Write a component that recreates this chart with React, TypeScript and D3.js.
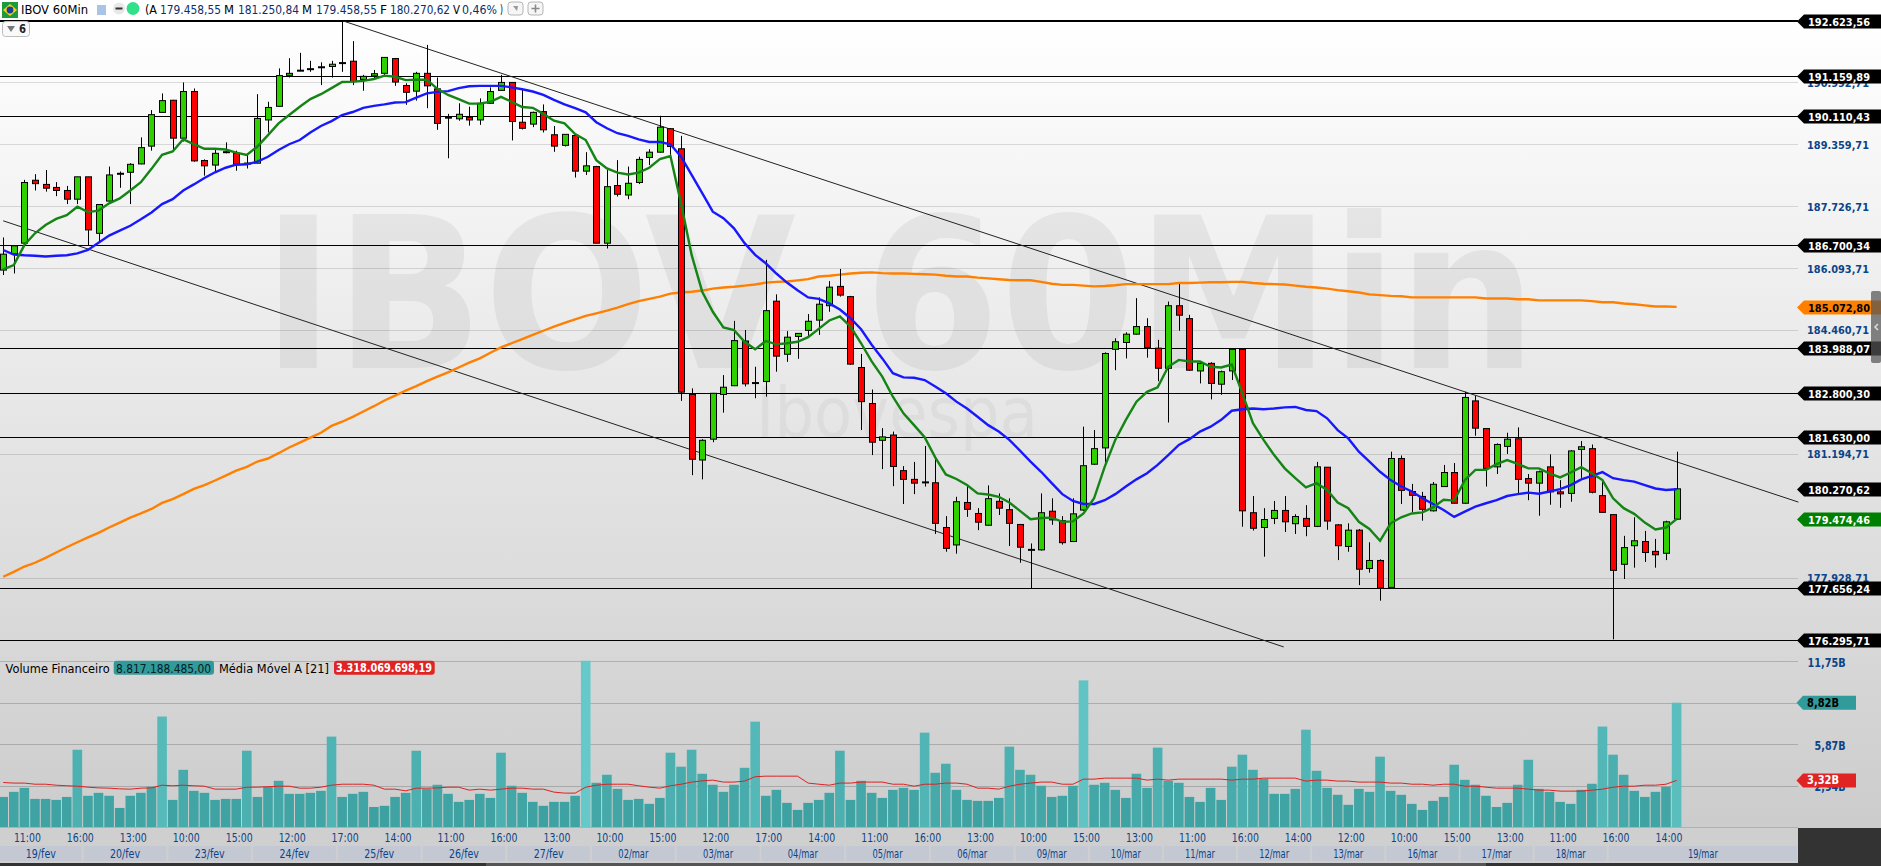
import * as d3 from "d3";

// cotacoes em milhares de pontos: [abertura, maxima, minima, fechamento]
const ohlc = [
  [186.04,186.90,185.91,186.46],[186.47,186.70,185.95,186.68],[186.75,188.42,186.70,188.35],[188.41,188.57,188.14,188.32],
  [188.30,188.68,188.11,188.20],[188.22,188.36,187.99,188.14],[188.14,188.26,187.78,187.91],[187.91,188.50,187.78,188.50],
  [188.50,188.50,186.70,187.10],[187.01,187.78,186.79,187.77],[187.86,188.77,187.85,188.55],[188.58,188.64,188.21,188.58],
  [188.62,188.86,187.78,188.83],[188.84,189.54,188.83,189.27],[189.31,190.26,189.19,190.14],[190.20,190.70,190.19,190.51],
  [190.52,190.53,189.17,189.52],[189.52,190.99,189.43,190.75],[190.75,190.83,188.90,188.92],[188.93,188.96,188.53,188.79],
  [188.81,189.21,188.64,189.12],[189.15,189.41,189.12,189.15],[189.12,189.19,188.66,188.83],[188.85,189.09,188.72,188.85],
  [188.86,190.68,188.86,190.04],[190.00,190.48,189.67,190.33],[190.36,191.36,190.35,191.17],[191.19,191.63,191.12,191.23],
  [191.30,191.77,191.29,191.30],[191.34,191.56,191.27,191.34],[191.39,191.52,190.92,191.39],[191.41,191.56,191.12,191.47],
  [191.50,192.62,191.27,191.50],[191.55,192.08,190.92,191.01],[191.07,191.19,190.77,191.15],[191.16,191.32,191.10,191.22],
  [191.23,191.65,191.19,191.65],[191.62,191.63,190.90,191.00],[190.91,190.97,190.40,190.73],[190.76,191.27,190.51,191.23],
  [191.23,191.98,190.31,190.90],[190.82,191.12,189.74,189.91],[190.06,190.16,188.99,190.06],[190.03,190.44,189.98,190.15],
  [190.07,190.35,189.85,190.00],[190.00,190.57,189.87,190.44],[190.44,190.86,190.42,190.75],[190.78,191.19,190.77,190.99],
  [190.99,190.99,189.46,189.96],[189.94,190.83,189.75,189.78],[189.89,190.22,189.81,190.20],[190.22,190.41,189.67,189.74],
  [189.61,189.84,189.16,189.31],[189.33,189.62,189.30,189.62],[189.59,189.60,188.48,188.65],[188.65,189.15,188.55,188.79],
  [188.77,188.79,186.75,186.75],[186.75,188.68,186.61,188.24],[188.27,188.94,187.98,188.04],[188.02,188.77,187.91,188.33],
  [188.35,189.03,188.31,188.96],[189.01,189.23,188.81,189.15],[189.15,190.11,189.14,189.81],[189.77,189.78,189.08,189.30],
  [189.24,189.58,182.59,182.82],[182.76,182.92,180.63,181.05],[181.03,181.58,180.52,181.55],[181.58,182.80,181.50,182.79],
  [182.76,183.27,182.28,182.95],[182.99,184.70,182.98,184.18],[184.17,184.46,182.97,183.04],[183.06,183.49,182.66,183.06],
  [183.10,186.31,182.70,184.97],[185.22,185.40,183.36,183.77],[183.82,184.43,183.62,184.27],[184.29,184.38,183.70,184.37],
  [184.45,184.88,184.27,184.69],[184.72,185.32,184.33,185.14],[185.10,185.75,184.94,185.59],[185.61,186.07,185.34,185.38],
  [185.34,185.36,183.54,183.56],[183.47,183.83,181.82,182.57],[182.52,182.89,181.16,181.50],[181.55,181.87,180.79,181.64],
  [181.69,181.78,180.34,180.86],[180.75,180.87,179.87,180.52],[180.52,180.98,180.13,180.42],[180.44,181.40,180.33,180.44],
  [180.43,181.09,179.08,179.36],[179.25,179.55,178.61,178.70],[178.79,180.06,178.56,179.93],[179.91,180.37,179.53,179.73],
  [179.62,179.76,179.18,179.39],[179.31,180.36,179.29,180.01],[179.94,180.15,179.58,179.76],[179.72,180.02,178.76,179.36],
  [179.33,179.33,178.32,178.73],[178.66,178.83,177.63,178.66],[178.66,180.15,178.64,179.64],[179.68,180.02,179.32,179.45],
  [179.43,179.55,178.80,178.85],[178.88,180.02,178.87,179.61],[179.71,181.91,179.69,180.88],[180.92,181.82,180.90,181.33],
  [181.35,183.87,180.94,183.84],[183.95,184.24,183.40,184.15],[184.13,184.40,183.71,184.35],[184.35,185.30,184.34,184.55],
  [184.55,184.77,183.73,184.00],[183.98,184.20,183.11,183.45],[183.45,185.21,182.02,185.10],[185.10,185.67,184.44,184.85],
  [184.76,184.86,183.38,183.40],[183.38,183.62,183.05,183.58],[183.58,183.61,182.63,183.05],[183.03,183.39,182.75,183.36],
  [183.38,183.98,183.14,183.95],[183.95,183.98,179.27,179.69],[179.64,180.08,179.17,179.23],[179.25,179.76,178.48,179.46],
  [179.49,179.95,179.34,179.70],[179.70,180.08,179.13,179.40],[179.35,179.60,179.08,179.54],[179.49,179.84,179.02,179.28],
  [179.28,180.98,179.26,180.85],[180.84,180.84,179.19,179.42],[179.32,179.34,178.39,178.77],[178.75,179.36,178.61,179.18],
  [179.18,179.21,177.73,178.15],[178.17,178.86,178.06,178.38],[178.38,178.41,177.32,177.65],[177.67,181.25,177.67,181.07],
  [181.07,181.15,179.87,180.23],[180.20,180.40,179.66,180.10],[180.07,180.19,179.43,179.73],[179.69,180.45,179.67,180.39],
  [180.33,180.90,180.33,180.70],[180.70,180.95,179.87,179.89],[179.89,182.83,179.87,182.68],[182.59,182.72,181.67,181.87],
  [181.86,181.86,180.33,180.81],[180.85,181.47,180.66,181.44],[181.39,181.75,181.19,181.58],[181.59,181.89,180.13,180.52],
  [180.54,180.66,179.97,180.42],[180.42,180.75,179.56,180.72],[180.85,181.18,179.85,180.19],[180.19,180.50,179.77,180.15],
  [180.15,181.29,179.93,181.27],[181.31,181.53,180.56,181.38],[181.33,181.44,180.15,180.18],[180.09,180.50,179.64,179.65],
  [179.59,179.59,176.30,178.12],[178.28,179.03,177.89,178.72],[178.77,179.52,178.19,178.90],[178.88,179.16,178.34,178.59],
  [178.62,178.95,178.19,178.53],[178.57,179.43,178.39,179.40],[179.47,181.25,179.46,180.27],
];

const maShort = [
  186.06,186.17,186.70,187.01,187.23,187.39,187.49,187.71,187.57,187.61,187.80,187.93,188.14,188.36,188.71,189.08,
  189.17,189.49,189.36,189.24,189.24,189.22,189.14,189.08,189.30,189.60,189.91,190.13,190.35,190.55,190.68,190.84,
  191.00,191.01,191.03,191.08,191.17,191.14,191.05,191.06,191.06,190.82,190.66,190.55,190.43,190.43,190.48,190.61,
  190.48,190.34,190.32,190.16,189.98,189.91,189.63,189.47,188.94,188.72,188.61,188.56,188.61,188.74,188.97,189.05,
  187.80,186.44,185.47,184.94,184.53,184.46,184.15,183.95,184.17,184.08,184.11,184.15,184.27,184.49,184.71,184.82,
  184.55,184.11,183.63,183.23,182.70,182.26,181.95,181.63,181.10,180.65,180.53,180.37,180.15,180.12,180.06,179.91,
  179.69,179.47,179.50,179.51,179.40,179.41,179.62,180.02,180.85,181.56,182.09,182.57,182.83,182.95,183.49,183.67,
  183.63,183.63,183.49,183.47,183.55,182.79,182.00,181.56,181.16,180.81,180.55,180.31,180.42,180.24,179.91,179.76,
  179.40,179.21,178.90,179.36,179.52,179.62,179.65,179.78,179.98,179.96,180.50,180.77,180.77,180.92,181.03,180.93,
  180.81,180.81,180.68,180.57,180.70,180.84,180.68,180.50,180.02,179.76,179.61,179.38,179.20,179.25,179.47,
];

const maMid = [
  186.57,186.45,186.43,186.42,186.40,186.42,186.43,186.48,186.57,186.76,186.95,187.08,187.21,187.38,187.56,187.78,
  187.91,188.14,188.30,188.47,188.62,188.74,188.82,188.83,188.90,189.03,189.21,189.36,189.47,189.67,189.84,189.97,
  190.13,190.21,190.32,190.37,190.41,190.46,190.47,190.59,190.70,190.74,190.76,190.84,190.89,190.90,190.90,190.90,
  190.86,190.81,190.75,190.66,190.53,190.41,190.31,190.20,189.94,189.78,189.65,189.58,189.49,189.42,189.42,189.36,
  189.03,188.55,188.07,187.58,187.41,187.14,186.75,186.44,186.22,185.95,185.71,185.51,185.32,185.28,185.16,185.00,
  184.77,184.48,184.07,183.71,183.32,183.21,183.20,183.14,182.97,182.79,182.57,182.39,182.17,181.95,181.78,181.56,
  181.28,180.99,180.72,180.42,180.13,179.95,179.87,179.87,179.97,180.13,180.33,180.52,180.68,180.90,181.16,181.43,
  181.58,181.78,181.91,182.09,182.33,182.37,182.39,182.37,182.39,182.42,182.43,182.35,182.32,182.13,181.82,181.60,
  181.25,180.99,180.72,180.50,180.33,180.20,180.02,179.87,179.71,179.53,179.67,179.80,179.89,179.97,180.08,180.13,
  180.17,180.14,180.20,180.26,180.37,180.52,180.61,180.71,180.55,180.50,180.46,180.37,180.28,180.24,180.26,
];

const maLong = [
  177.95,178.08,178.22,178.32,178.45,178.59,178.73,178.86,178.99,179.11,179.25,179.38,179.51,179.62,179.74,179.90,
  180.00,180.13,180.27,180.37,180.49,180.62,180.75,180.85,180.99,181.07,181.21,181.36,181.49,181.62,181.75,181.93,
  182.04,182.17,182.31,182.45,182.60,182.73,182.86,182.98,183.11,183.23,183.34,183.47,183.60,183.71,183.86,184.00,
  184.11,184.22,184.33,184.44,184.55,184.65,184.74,184.83,184.90,184.97,185.05,185.14,185.22,185.28,185.34,185.42,
  185.45,185.47,185.50,185.55,185.58,185.60,185.63,185.66,185.71,185.73,185.74,185.77,185.80,185.87,185.89,185.92,
  185.95,185.97,185.98,185.96,185.95,185.95,185.94,185.93,185.92,185.89,185.87,185.87,185.84,185.82,185.80,185.78,
  185.77,185.77,185.73,185.68,185.65,185.65,185.63,185.61,185.62,185.64,185.67,185.67,185.67,185.67,185.67,185.70,
  185.70,185.71,185.72,185.72,185.73,185.73,185.70,185.68,185.67,185.66,185.63,185.60,185.58,185.55,185.51,185.48,
  185.45,185.40,185.38,185.36,185.35,185.32,185.32,185.32,185.32,185.32,185.32,185.32,185.29,185.29,185.29,185.27,
  185.27,185.24,185.24,185.24,185.24,185.24,185.22,185.19,185.19,185.16,185.14,185.11,185.08,185.08,185.07,
];

// volume financeiro em bilhoes
const volume = [
  2.15,2.51,2.79,2.01,2.01,1.94,2.15,5.49,2.23,2.44,2.23,1.37,2.23,2.44,2.87,7.84,
  1.94,4.07,2.58,2.44,1.94,2.01,2.01,5.42,2.15,2.87,3.29,2.37,2.37,2.44,2.58,6.42,
  2.15,2.37,2.51,1.44,1.52,2.15,2.44,5.42,2.72,3.01,2.37,1.80,1.94,2.37,2.08,5.28,
  2.94,2.44,1.80,1.52,1.80,1.80,2.23,11.79,3.15,3.72,2.72,1.94,
  2.01,1.66,2.08,5.28,4.29,5.49,3.79,3.01,2.51,3.01,4.21,7.48,2.23,2.65,1.73,1.23,
  1.73,1.94,2.44,5.42,1.94,3.29,2.44,2.08,2.65,2.79,2.65,6.70,3.86,4.50,2.65,1.94,
  1.87,1.87,2.08,5.71,4.07,3.72,2.94,2.15,2.23,2.94,10.40,3.01,3.15,2.65,2.08,3.79,
  2.79,5.64,3.29,3.15,2.15,1.80,2.79,1.94,4.29,5.14,4.07,
  3.43,2.37,2.37,2.72,6.91,4.00,2.79,2.30,1.59,2.72,2.51,5.00,2.58,2.30,1.66,1.23,
  1.87,2.15,4.43,3.36,3.01,2.23,1.44,1.73,3.01,4.78,2.72,2.51,1.80,1.66,2.65,3.08,
  7.13,5.14,3.72,2.58,2.15,2.51,2.87,8.82,
];

const volumeMa = [
  3.17,3.13,3.13,3.05,3.05,2.98,2.94,2.91,2.84,2.79,2.77,2.72,2.70,2.77,2.79,2.98,
  2.94,2.98,2.94,2.91,2.70,2.70,2.70,2.84,2.84,2.87,2.91,2.91,2.77,2.77,2.84,2.98,
  3.05,3.05,3.05,2.98,2.70,2.70,2.58,2.77,2.77,2.79,2.84,2.84,2.63,2.70,2.63,2.70,
  2.77,2.77,2.70,2.70,2.49,2.42,2.42,2.84,2.98,3.05,3.05,3.05,
  2.94,2.84,2.77,2.94,3.05,3.20,3.29,3.34,3.20,3.20,3.27,3.58,3.62,3.62,3.62,3.62,
  3.13,3.05,2.98,3.13,3.13,3.20,3.20,3.20,3.05,3.05,2.91,3.05,3.05,3.13,3.13,3.05,
  2.77,2.77,2.70,2.91,3.05,3.13,3.20,3.20,3.05,3.05,3.41,3.41,3.48,3.48,3.48,3.48,
  3.34,3.41,3.34,3.41,3.41,3.41,3.41,3.41,3.34,3.41,3.41,
  3.48,3.48,3.48,3.48,3.27,3.34,3.34,3.27,3.27,3.20,3.20,3.20,3.13,3.13,3.05,3.05,
  2.98,3.05,3.05,2.91,2.91,2.84,2.77,2.77,2.77,2.70,2.63,2.63,2.56,2.56,2.56,2.63,
  2.70,2.84,2.91,2.91,2.98,2.98,3.05,3.32,
];

const priceGrid = [190992.71, 189359.71, 187726.71, 186093.71, 184460.71, 181194.71, 177928.71];
const blackLevels = [192623.56, 191159.89, 190110.43, 186700.34, 183988.07, 182800.3, 181630, 177656.24, 176295.71];
const closeTag = 180270.62;
const shortTag = 179474.46;
const longTag = 185072.8;
const volumeGrid = [11.75, 8.82, 5.87, 2.94];
const volumeGridLabels = ["11,75B", "", "5,87B", "2,94B"];

const hourLabels = [
  "11:00","16:00","13:00","10:00","15:00","12:00","17:00","14:00","11:00","16:00","13:00","10:00","15:00","12:00","17:00","14:00",
  "11:00","16:00","13:00","10:00","15:00","13:00","11:00","16:00","14:00","12:00","10:00","15:00","13:00","11:00","16:00","14:00",
];
const dayLabels = ["19/fev","20/fev","23/fev","24/fev","25/fev","26/fev","27/fev","02/mar","03/mar","04/mar","05/mar","06/mar","09/mar","10/mar","11/mar","12/mar","13/mar","16/mar","17/mar","18/mar","19/mar"];
const dayBars = [8,8,8,8,8,8,8,8,8,8,8,8,7,7,7,7,7,7,7,7,18];

// cabecalho: rotulo, valor
const quoteTexts = ["(A", "179.458,55", "M", "181.250,84", "M", "179.458,55", "F", "180.270,62", "V", "0,46%", ")"];
const quoteStarts = [145, 160, 224, 238, 302, 316, 380, 390, 453, 462, 500];
const quoteWidths = [12, 61, 10, 61, 10, 61, 7, 60, 7, 35, 3];

// linhas de tendencia: [barra, milhares de pontos]
const trendUpper = [[32, 192.62], [169.5, 179.92]];
const trendLower = [[0, 187.34], [120.9, 176.1]];

const W = 1881;
const H = 866;
const PANEL_R = 1798;
const FONT = '"DejaVu Sans", sans-serif';
const NAVY = "#0b4488";

const x = d3.scaleLinear([0, 158], [3.2, 1676.6]);
const y = d3.scaleLinear([176295.71, 192623.56], [639.5, 20.5]);
const yK = (v: number) => y(v * 1000);
const yVol = d3.scaleLinear([0, 11.75], [827.3, 661.3]);
const volColor = d3.scaleLinear<string>([1, 12], ["#3c9f9f", "#66caca"]);
const brl = d3.formatLocale({ decimal: ",", thousands: ".", grouping: [3], currency: ["", ""] }).format(",.2f");

const priceLine = d3.line<number>().x((_, i) => x(i)).y((d) => yK(d));
const volLine = d3.line<number>().x((_, i) => x(i)).y((d) => yVol(d));
const trendLine = d3.line<number[]>().x((d) => x(d[0])).y((d) => yK(d[1]));

function Label({ px, py, len, size = 12, color = "#000", weight = "normal", anchor = "start", children }: any) {
  return (
    <text
      x={px}
      y={py}
      fontFamily={FONT}
      fontSize={size}
      fontWeight={weight}
      fill={color}
      textAnchor={anchor}
      dominantBaseline="central"
      textLength={len}
      lengthAdjust="spacingAndGlyphs"
    >
      {children}
    </text>
  );
}

function PriceTag({ price, fill, color }: { price: number; fill: string; color: string }) {
  const py = Math.round(y(price)) + 0.5;
  return (
    <g>
      <path d={`M1797 ${py}L1804 ${py - 7}H1881V${py + 7}H1804Z`} fill={fill} />
      <Label px={1808} py={py + 0.5} len={62} size={11} weight="bold" color={color}>{brl(price)}</Label>
    </g>
  );
}

function VolumeTag({ value, text, fill, color }: { value: number; text: string; fill: string; color: string }) {
  const py = yVol(value);
  return (
    <g>
      <path d={`M1796.5 ${py}L1803 ${py - 7}H1856V${py + 7}H1803Z`} fill={fill} />
      <Label px={1807} py={py} len={32} weight="bold" color={color}>{text}</Label>
    </g>
  );
}

function Candles() {
  return (
    <g>
      {ohlc.map(([o, h, l, c], i) => {
        const cx = Math.round(x(i)) + 0.5;
        const top = yK(Math.max(o, c));
        const bottom = yK(Math.min(o, c));
        return (
          <g key={i}>
            <line x1={cx} x2={cx} y1={yK(h)} y2={yK(l)} stroke="#000" strokeWidth={1} />
            {o === c ? (
              <rect x={cx - 3.5} y={top - 1} width={7} height={2} fill="#000" />
            ) : (
              <rect
                x={cx - 3}
                y={top}
                width={6}
                height={Math.max(bottom - top, 2)}
                fill={c > o ? "#2fd000" : "#ff0000"}
                stroke="#000"
                strokeWidth={1}
              />
            )}
          </g>
        );
      })}
    </g>
  );
}

function DayStrip() {
  let start = 0;
  return (
    <g>
      {dayLabels.map((d, i) => {
        const x0 = i === 0 ? 0 : x(start - 0.5) + 1;
        start += dayBars[i];
        const x1 = i === dayLabels.length - 1 ? PANEL_R - 1 : x(start - 0.5) - 1;
        return (
          <g key={d}>
            <rect x={x0} y={846} width={x1 - x0} height={15} fill="#c3c8d3" />
            <Label px={(x0 + x1) / 2} py={853.5} len={30} color={NAVY} anchor="middle">{d}</Label>
          </g>
        );
      })}
    </g>
  );
}

function Header() {
  return (
    <g>
      <rect width={W} height={20} fill="#fff" />
      <rect x={2} y={2} width={16} height={16} fill="#1f9a3a" />
      <path d="M10 4L17 10L10 16L3 10Z" fill="#f2d21c" />
      <circle cx={10} cy={10} r={3.4} fill="#1d3f9c" />
      <Label px={21} py={9} len={67} size={13}>IBOV 60Min</Label>
      <rect x={97} y={5} width={9} height={10} fill="#aac4e6" />
      <circle cx={119} cy={8.5} r={6} fill="#e8e8e8" />
      <rect x={115.5} y={7.5} width={7} height={2} fill="#333" />
      <circle cx={133} cy={8.5} r={6.5} fill="#32e08a" />
      {quoteTexts.map((t, i) => (
        <Label key={i} px={quoteStarts[i]} py={9} len={quoteWidths[i]} size={12.5} color={i % 2 === 0 ? "#000" : "#0a2f6e"}>
          {t}
        </Label>
      ))}
      {[508, 528].map((bx) => (
        <rect key={bx} x={bx} y={2} width={15} height={13} rx={3} fill="#f6f6f6" stroke="#b5b5b5" />
      ))}
      <path d="M513 6H518L517 11Z" fill="#999" />
      <path d="M535.5 4.5V12.5M531.5 8.5H539.5" stroke="#888" strokeWidth={1.5} />
      <rect x={2.5} y={21.5} width={27} height={15} rx={3} fill="#f9f9f9" stroke="#bdbdbd" />
      <path d="M7 26H15L11 32Z" fill="#777" />
      <Label px={19} py={29} len={7} size={12} weight="bold" color="#222">6</Label>
    </g>
  );
}

export default function App() {
  return (
    <svg width={W} height={H} viewBox={`0 0 ${W} ${H}`} style={{ display: "block" }}>
      <style>{"body{margin:0;background:#fff}"}</style>
      <defs>
        <linearGradient id="paneBg" x1="0" y1="20" x2="0" y2="828" gradientUnits="userSpaceOnUse">
          <stop offset="0" stopColor="#ffffff" />
          <stop offset="0.77" stopColor="#d8d8d8" />
          <stop offset="1" stopColor="#cccccc" />
        </linearGradient>
      </defs>
      <rect y={20} width={W} height={808} fill="url(#paneBg)" />

      {/* marca d'agua */}
      <text x={262} y={368} fontFamily={FONT} fontWeight="bold" fontSize={210} fill="#000" fillOpacity={0.055} textLength={1275} lengthAdjust="spacingAndGlyphs">
        IBOV 60Min
      </text>
      <text x={756} y={437} fontFamily={FONT} fontSize={70} fill="#000" fillOpacity={0.04} textLength={282} lengthAdjust="spacingAndGlyphs">
        Ibovespa
      </text>

      {/* grade e eixo de precos */}
      {priceGrid.map((p) => (
        <g key={p}>
          <line x1={0} x2={PANEL_R} y1={Math.round(y(p)) + 0.5} y2={Math.round(y(p)) + 0.5} stroke="#000" strokeOpacity={0.13} />
          <Label px={1807} py={y(p) + 1} len={62} size={11} weight="bold" color={NAVY}>{brl(p)}</Label>
        </g>
      ))}
      {volumeGrid.map((v, i) => (
        <g key={v}>
          <line x1={0} x2={PANEL_R} y1={Math.round(yVol(v)) + 0.5} y2={Math.round(yVol(v)) + 0.5} stroke="#000" strokeOpacity={0.18} />
          {volumeGridLabels[i] && (
            <Label px={1845.6} py={yVol(v) + 1.5} weight="bold" color={NAVY} anchor="end" len={i === 0 ? 38 : 31}>
              {volumeGridLabels[i]}
            </Label>
          )}
        </g>
      ))}

      {blackLevels.map((p) => (
        <line key={p} x1={0} x2={PANEL_R} y1={Math.round(y(p)) + 0.5} y2={Math.round(y(p)) + 0.5} stroke="#000" />
      ))}
      <path d={trendLine(trendUpper)!} fill="none" stroke="#222" strokeWidth={1} />
      <path d={trendLine(trendLower)!} fill="none" stroke="#222" strokeWidth={1} />

      <path d={priceLine(maLong)!} fill="none" stroke="#ff8000" strokeWidth={2.4} />
      <Candles />
      <path d={priceLine(maMid)!} fill="none" stroke="#1818ff" strokeWidth={2.4} />
      <path d={priceLine(maShort)!} fill="none" stroke="#148414" strokeWidth={2.4} />

      {/* volume */}
      {volume.map((v, i) => (
        <rect key={i} x={x(i) - 4.8} y={yVol(v)} width={9.6} height={yVol(0) - yVol(v)} fill={volColor(v)} />
      ))}
      <path d={volLine(volumeMa)!} fill="none" stroke="#e02020" strokeWidth={1} />
      <line x1={0} x2={PANEL_R} y1={827.5} y2={827.5} stroke="#b0b0b0" />

      <Label px={5.6} py={668} len={104} size={13}>Volume Financeiro</Label>
      <rect x={113.7} y={660.7} width={100.3} height={14} rx={3} fill="#319a9a" />
      <Label px={116} py={668} len={95} size={12.5} color="#06201f">8.817.188.485,00</Label>
      <Label px={219} py={668} len={110} size={13}>Média Móvel A [21]</Label>
      <rect x={334} y={660.7} width={100.7} height={14} rx={3} fill="#e02424" />
      <Label px={336} py={668} len={96} size={12} color="#fff" weight="bold">3.318.069.698,19</Label>

      {/* rodape */}
      <rect y={828} width={PANEL_R} height={35} fill="#cfcfcf" />
      <rect x={PANEL_R} y={828} width={W - PANEL_R} height={38} fill="#333" />
      <rect y={863} width={PANEL_R} height={3} fill="#333" />
      <rect x={486} y={863} width={1000} height={3} fill="#555" />
      {hourLabels.map((t, i) => (
        <Label key={i} px={x(2 + i * 5) + 3} py={837} len={27} size={12.5} color={NAVY} anchor="middle">{t}</Label>
      ))}
      <DayStrip />

      <Header />
      <line x1={0} x2={PANEL_R} y1={20.5} y2={20.5} stroke="#000" />

      {/* etiquetas do eixo */}
      {blackLevels.map((p) => (
        <PriceTag key={p} price={p} fill="#000" color="#fff" />
      ))}
      <PriceTag price={closeTag} fill="#000" color="#fff" />
      <PriceTag price={shortTag} fill="#008000" color="#fff" />
      <PriceTag price={longTag} fill="#ff8000" color="#000" />
      <VolumeTag value={8.82} text="8,82B" fill="#319a9a" color="#000" />
      <VolumeTag value={3.32} text="3,32B" fill="#e02424" color="#fff" />

      <rect x={1871} y={291} width={10} height={72} rx={2} fill="#555" fillOpacity={0.72} />
      <path d="M1878 324L1875 327L1878 330" fill="none" stroke="#ddd" strokeWidth={1.5} />
    </svg>
  );
}
